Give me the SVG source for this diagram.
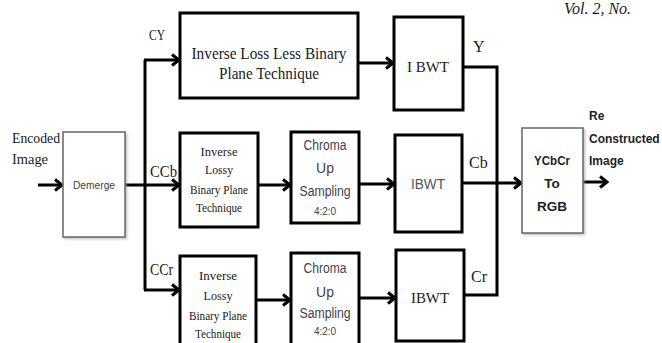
<svg xmlns="http://www.w3.org/2000/svg" width="662" height="343" viewBox="0 0 662 343">
<style>
.thick{fill:#fff;stroke:#000;stroke-width:3}
.thin{fill:#fff;stroke:#666;stroke-width:1.5}
.serif{font-family:"Liberation Serif","Times New Roman",serif;fill:#1a1a1a}
.sans{font-family:"Liberation Sans",Arial,sans-serif}
.c{text-anchor:middle}
.line{fill:none;stroke:#000;stroke-width:3}
</style>
<defs>
<filter id="sh" x="-10%" y="-10%" width="130%" height="130%"><feDropShadow dx="1.5" dy="1.5" stdDeviation="1" flood-color="#999" flood-opacity="0.6"/></filter>
<marker id="arr" markerUnits="userSpaceOnUse" markerWidth="12" markerHeight="14" refX="9" refY="7" orient="auto"><path d="M2,1.5 L9,7 L2,12.5" fill="none" stroke="#000" stroke-width="3"/></marker>
</defs>
<rect width="662" height="343" fill="#fff"/>
<text x="564" y="14" font-size="16" font-style="italic" class="serif">Vol. 2, No.</text>

<g id="connectors">
<line class="line" x1="38" y1="185" x2="62" y2="185" marker-end="url(#arr)"/>
<line class="line" x1="125" y1="185" x2="179" y2="185" marker-end="url(#arr)"/>
<polyline class="line" points="145,60 145,290"/>
<line class="line" x1="144" y1="60" x2="179" y2="60" marker-end="url(#arr)"/>
<line class="line" x1="144" y1="290" x2="179" y2="290" marker-end="url(#arr)"/>
<line class="line" x1="358" y1="63" x2="393" y2="63" marker-end="url(#arr)"/>
<line class="line" x1="258" y1="185" x2="290" y2="185" marker-end="url(#arr)"/>
<line class="line" x1="359" y1="184" x2="394" y2="184" marker-end="url(#arr)"/>
<line class="line" x1="256" y1="300" x2="290" y2="300" marker-end="url(#arr)"/>
<line class="line" x1="359" y1="298" x2="395" y2="298" marker-end="url(#arr)"/>
<polyline class="line" points="463,67 497,67 497,295 464,295"/>
<line class="line" x1="462" y1="183" x2="521" y2="183" marker-end="url(#arr)"/>
<line class="line" x1="583" y1="182" x2="607" y2="182" marker-end="url(#arr)"/>
<text x="149" y="40" font-size="15" class="serif" textLength="16" lengthAdjust="spacingAndGlyphs">CY</text>
<text x="150" y="177" font-size="16" class="serif" textLength="27" lengthAdjust="spacingAndGlyphs">CCb</text>
<text x="150" y="275" font-size="16" class="serif" textLength="23" lengthAdjust="spacingAndGlyphs">CCr</text>
<text x="473" y="52" font-size="16" class="serif">Y</text>
<text x="469" y="168" font-size="16" class="serif">Cb</text>
<text x="471" y="282" font-size="16" class="serif">Cr</text>
</g>

<g id="encoded">
<text x="12" y="143" font-size="15" class="serif" textLength="48" lengthAdjust="spacingAndGlyphs">Encoded</text>
<text x="12" y="164" font-size="15" class="serif" textLength="36" lengthAdjust="spacingAndGlyphs">Image</text>
</g>

<g id="demerge">
<rect class="thin" x="63" y="132" width="62" height="105" filter="url(#sh)"/>
<text x="94" y="189" font-size="11" class="sans c" fill="#444" textLength="42" lengthAdjust="spacingAndGlyphs">Demerge</text>
</g>

<g id="lossless">
<rect class="thick" x="180" y="13" width="178" height="85"/>
<text x="269" y="59" font-size="17" class="serif c" textLength="155" lengthAdjust="spacingAndGlyphs">Inverse Loss Less Binary</text>
<text x="269" y="79" font-size="17" class="serif c" textLength="100" lengthAdjust="spacingAndGlyphs">Plane Technique</text>
</g>

<g id="ibwt1">
<rect class="thick" x="394" y="17" width="69" height="93"/>
<text x="428" y="72" font-size="15" class="serif c" textLength="42" lengthAdjust="spacingAndGlyphs">I BWT</text>
</g>

<g id="lossy1">
<rect class="thick" x="180" y="133" width="78" height="94"/>
<g font-size="12.5" class="serif c" fill="#3a2a2a">
<text x="219" y="156" textLength="37" lengthAdjust="spacingAndGlyphs">Inverse</text>
<text x="219" y="174" textLength="28" lengthAdjust="spacingAndGlyphs">Lossy</text>
<text x="219" y="194" textLength="58" lengthAdjust="spacingAndGlyphs">Binary Plane</text>
<text x="219" y="212" textLength="46" lengthAdjust="spacingAndGlyphs">Technique</text>
</g>
</g>

<g id="chroma1">
<rect class="thick" x="291" y="132" width="68" height="91"/>
<g class="sans c" fill="#3f3f50">
<text x="325" y="150" font-size="14" textLength="43" lengthAdjust="spacingAndGlyphs">Chroma</text>
<text x="325" y="173" font-size="14">Up</text>
<text x="325" y="196" font-size="14" textLength="51" lengthAdjust="spacingAndGlyphs">Sampling</text>
<text x="325" y="215" font-size="10">4:2:0</text>
</g>
</g>

<g id="ibwt2">
<rect class="thick" x="395" y="135" width="67" height="97"/>
<text x="428" y="189" font-size="14.5" class="sans c" fill="#555" textLength="34" lengthAdjust="spacingAndGlyphs">IBWT</text>
</g>

<g id="lossy2">
<rect class="thick" x="180" y="256" width="76" height="95"/>
<g font-size="13.5" class="serif c" fill="#3a2a2a">
<text x="218" y="280" textLength="38" lengthAdjust="spacingAndGlyphs">Inverse</text>
<text x="218" y="300" textLength="29" lengthAdjust="spacingAndGlyphs">Lossy</text>
<text x="218" y="320" textLength="58" lengthAdjust="spacingAndGlyphs">Binary Plane</text>
<text x="218" y="338" textLength="46" lengthAdjust="spacingAndGlyphs">Technique</text>
</g>
</g>

<g id="chroma2">
<rect class="thick" x="291" y="253" width="68" height="98"/>
<g class="sans c" fill="#3f3f50">
<text x="325" y="273" font-size="14" textLength="43" lengthAdjust="spacingAndGlyphs">Chroma</text>
<text x="325" y="297" font-size="14">Up</text>
<text x="325" y="318" font-size="14" textLength="51" lengthAdjust="spacingAndGlyphs">Sampling</text>
<text x="325" y="335" font-size="10">4:2:0</text>
</g>
</g>

<g id="ibwt3">
<rect class="thick" x="396" y="250" width="68" height="91"/>
<text x="430" y="303" font-size="15.5" class="serif c" textLength="38" lengthAdjust="spacingAndGlyphs">IBWT</text>
</g>

<g id="ycbcr">
<rect class="thin" x="522" y="128" width="61" height="105" filter="url(#sh)"/>
<g class="sans c" font-weight="bold" font-size="13.5" fill="#222">
<text x="552" y="165" textLength="36" lengthAdjust="spacingAndGlyphs">YCbCr</text>
<text x="552" y="188">To</text>
<text x="552" y="211">RGB</text>
</g>
</g>

<g id="output">
<g class="sans" font-weight="bold" font-size="12" fill="#222">
<text x="589" y="120">Re</text>
<text x="589" y="143">Constructed</text>
<text x="589" y="165">Image</text>
</g>
</g>
</svg>
